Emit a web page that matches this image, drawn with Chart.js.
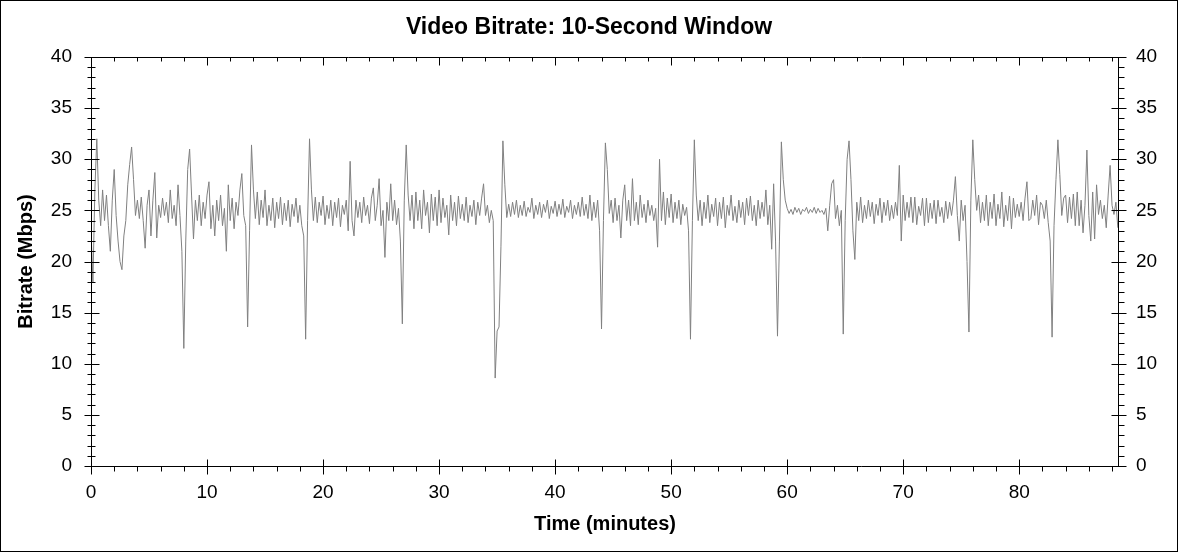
<!DOCTYPE html>
<html>
<head>
<meta charset="utf-8">
<title>Video Bitrate: 10-Second Window</title>
<script src="https://cdn.jsdelivr.net/npm/chart.js@4.4.1/dist/chart.umd.min.js"></script>
<style>
  html, body { margin: 0; padding: 0; background: #fff; }
  #grafico { display: block; }
</style>
</head>
<body>
<canvas id="grafico" width="1178" height="552"></canvas>
<script>
// bitrate samples (Mbps), one every 10 s
const sampleStepMin = 1 / 6;
const bitrateMbps = [
  23, 18, 27, 32, 26, 23.5,            27, 24, 26.5, 23.5, 21, 26,
  29, 24.5, 22, 20, 19.2, 22.5,        24, 27.5, 29.5, 31.2, 28, 24.5,
  26, 24.2, 26.3, 24, 21.3, 25.5,      27, 22.5, 26, 28.7, 22.3, 25.5,
  24.3, 26.2, 24.5, 25.8, 23.8, 27,    24.2, 25.5, 23.5, 27.5, 24.5, 21,
  11.5, 22, 29, 31, 26.5, 22.2,        26, 24, 26.5, 23.5, 25.8, 24.2,
  26.5, 27.8, 23.2, 25.5, 22.5, 26,    24, 26.5, 23.5, 25.2, 21, 27.5,
  24, 26.2, 23.2, 25.8, 24.5, 27,      28.6, 24.5, 23.5, 13.6, 23, 31.4,
  27, 24.2, 26.8, 23.6, 26, 24.3,      27, 23.5, 25.5, 24, 26.2, 23.3,
  25.8, 24.2, 26.3, 23.6, 25.7, 24,    26, 23.4, 25.6, 24.4, 26.2, 23.8,
  25.5, 23.5, 22.5, 12.4, 24, 32,      27, 24, 26.3, 23.8, 25.8, 24.5,
  26.4, 23.6, 25.5, 24.2, 26, 23.5,    25.8, 24.3, 26.2, 23.4, 25.5, 24.6,
  26, 23, 29.8, 24, 22.5, 26,          24.3, 25.8, 23.8, 26.3, 24.5, 25.5,
  23.7, 26.2, 27.2, 24, 25.5, 28.1,    23.5, 25, 20.4, 25.8, 24, 27.6,
  24, 26, 23.6, 25.2, 22, 13.9,        26, 31.4, 26.5, 24, 26.5, 23.2,
  26.8, 24, 26, 23.2, 27, 24.5,        25.8, 22.8, 26.6, 24, 26.3, 23.5,
  27, 23.8, 26.2, 24.3, 25.5, 22.6,    26.5, 24, 25.8, 23.5, 26.4, 24.2,
  25.6, 24, 26.3, 23.8, 25.5, 24.4,    26, 23.6, 25.8, 24.5, 26.2, 27.6,
  24.5, 25.5, 23.8, 25, 24, 8.6,       13.2, 13.6, 21.5, 31.8, 27.5, 24.3,
  25.6, 24.4, 25.8, 24.6, 26, 24.3,    25.5, 24.5, 25.9, 24.4, 25.3, 24.8,
  26.2, 24.2, 25.5, 24.6, 25.8, 24.3,  25.6, 24.8, 26, 24.2, 25.4, 24.7,
  25.9, 24.4, 25.6, 24.6, 26.1, 24.3,  25.4, 24.8, 26, 24.2, 25.5, 24.6,
  25.8, 24.4, 26.3, 24.5, 25.6, 24.2,  26.5, 24, 25.8, 24.3, 26, 23,
  13.4, 24, 31.6, 29, 24.7, 26,        23.8, 26.2, 24, 25.5, 22.3, 26,
  27.5, 24, 26, 23.5, 28.1, 24,        25.8, 23.6, 26.5, 24.3, 25.6, 23.8,
  26, 24.5, 25.5, 24, 25.2, 21.4,      30, 24, 26.8, 23.6, 26.2, 24.3,
  26.6, 23.8, 25.8, 24.2, 26, 23.6,    25.6, 24.5, 25.3, 23, 12.4, 24,
  31.9, 26.5, 24, 26, 23.5, 25.8,      24.2, 26.5, 23.8, 25.6, 24.4, 26.2,
  23.5, 25.8, 24.2, 26.3, 23.3, 25.5,  24.5, 26.5, 24, 25.4, 23.8, 26,
  24.3, 25.8, 23.6, 26.2, 24.5, 26.4,  24, 25.5, 23.5, 26, 24.2, 25.8,
  24.4, 27, 23.6, 25.5, 21.2, 27.6,    22, 12.7, 22, 31.7, 28, 26,
  25.2, 24.7, 25.1, 24.6, 25.3, 24.8,  25.2, 24.6, 25.1, 24.9, 25.3, 24.7,
  25.1, 24.8, 25.3, 24.7, 25.2, 24.8,  25, 24.6, 25.2, 23, 25.5, 27.6,
  28, 24.2, 25.5, 23.5, 25, 12.9,      24, 30, 31.8, 28, 23, 20.2,
  25.8, 24, 26.3, 23.8, 25.5, 24.2,    26, 24.4, 25.8, 23.7, 25.6, 24.5,
  26.2, 23.8, 25.8, 24.5, 26, 24,      25.5, 24.2, 25.8, 24.5, 29.4, 22,
  26.5, 24, 25.8, 24.3, 26.3, 23.8,    26.3, 23.6, 25.4, 24.5, 26.2, 23.5,
  26.2, 23.8, 25.7, 24.2, 26, 23.7,    26, 24.4, 25.3, 23.8, 25.9, 24.2,
  25.8, 24.5, 26, 28.3, 24.5, 22,      26, 24, 25.5, 20, 13.1, 26,
  31.9, 28, 25, 26.5, 23.8, 25.8,      24, 26.5, 23.5, 25.8, 24.2, 26.6,
  23.5, 25.6, 24.2, 26.8, 23.4, 25.5,  24, 26.4, 23.2, 26.2, 24.3, 25.6,
  24.4, 25.8, 24, 26.2, 27.8, 24,      24.2, 26, 24.5, 26.5, 23.6, 25.8,
  25.5, 24.2, 26, 23.8, 22, 12.6,      23.5, 28, 31.9, 28.5, 24.5, 26.2,
  26.5, 23.8, 26.3, 24.2, 26.6, 23.5,  26.8, 23.5, 26, 22.8, 25.5, 30.9,
  24.5, 22, 26.8, 22.2, 27.5, 24.6,    26, 24.2, 25.5, 23.3, 26.5, 29.4,
  25.5, 24.6, 25.8, 23.3
];

const chartTitle = "Video Bitrate: 10-Second Window";
const xTitle = "Time (minutes)";
const yTitle = "Bitrate (Mbps)";
const xMax = 88.6;
const yMax = 40;

const fuente = '"Liberation Sans", Arial, sans-serif';

const puntos = bitrateMbps.map((v, i) => ({ x: i * sampleStepMin, y: v }));

// frame, tick marks and title drawn on top of the scales
const marco = {
  id: 'marco',
  afterDraw(chart) {
    const ctx = chart.ctx;
    const a = chart.chartArea;
    const sx = chart.scales.x;
    const sy = chart.scales.y;
    const L = a.left + 0.5, R = a.right - 0.5, T = a.top + 0.5, B = a.bottom + 0.5;
    ctx.save();
    ctx.strokeStyle = '#000';
    ctx.lineWidth = 1;
    ctx.strokeRect(0.5, 0.5, chart.width - 1, chart.height - 1);
    ctx.beginPath();
    ctx.moveTo(L, T); ctx.lineTo(R, T); ctx.lineTo(R, B); ctx.lineTo(L, B); ctx.closePath();
    for (let v = 0; v <= yMax; v++) {
      const y = Math.round(sy.getPixelForValue(v)) + 0.5;
      if (v % 5 === 0) {
        ctx.moveTo(L - 7, y); ctx.lineTo(L + 8, y);
        ctx.moveTo(R - 7, y); ctx.lineTo(R + 8, y);
      } else {
        ctx.moveTo(L - 4, y); ctx.lineTo(L + 4, y);
        ctx.moveTo(R, y); ctx.lineTo(R + 6, y);
      }
    }
    for (let t = 0; t <= xMax; t += 2) {
      const x = Math.round(sx.getPixelForValue(t)) + 0.5;
      if (t % 10 === 0) {
        ctx.moveTo(x, B - 7); ctx.lineTo(x, B + 8);
        ctx.moveTo(x, T); ctx.lineTo(x, T + 8);
      } else {
        ctx.moveTo(x, B); ctx.lineTo(x, B + 5);
        ctx.moveTo(x, T); ctx.lineTo(x, T + 4);
      }
    }
    ctx.stroke();
    ctx.fillStyle = '#000';
    ctx.font = 'bold 23px ' + fuente;
    ctx.textAlign = 'center';
    ctx.textBaseline = 'middle';
    ctx.fillText(chartTitle, chart.width / 2, 28);
    ctx.restore();
  }
};

const tickFont = { family: fuente, size: 19 };
const titleFont = { family: fuente, size: 20, weight: 'bold' };

const config = {
  type: 'line',
  data: {
    datasets: [{
      data: puntos,
      borderColor: '#808080',
      borderWidth: 1,
      pointRadius: 0,
      tension: 0,
      fill: false
    }]
  },
  options: {
    responsive: false,
    animation: false,
    devicePixelRatio: 1,
    layout: { padding: { top: 57, left: 0, right: 0, bottom: 0 } },
    plugins: {
      legend: { display: false },
      tooltip: { enabled: false },
      title: { display: false }
    },
    scales: {
      x: {
        type: 'linear',
        position: 'bottom',
        min: 0,
        max: xMax,
        grid: { display: false, drawTicks: false },
        border: { display: false },
        ticks: {
          stepSize: 10,
          color: '#000',
          font: tickFont,
          padding: 15,
          maxRotation: 0,
          callback: (v) => (v % 10 === 0 ? v : '')
        },
        title: { display: true, text: xTitle, color: '#000', font: titleFont, padding: { top: 0, bottom: 16 } },
        afterFit: (s) => { s.height = 86; }
      },
      y: {
        position: 'left',
        min: 0,
        max: yMax,
        grid: { display: false, drawTicks: false },
        border: { display: false },
        ticks: { stepSize: 5, color: '#000', font: tickFont, padding: 19 },
        title: { display: true, text: yTitle, color: '#000', font: titleFont, padding: { top: 14, bottom: 0 } },
        afterFit: (s) => { s.width = 91; }
      },
      y2: {
        position: 'right',
        min: 0,
        max: yMax,
        grid: { display: false, drawTicks: false },
        border: { display: false },
        ticks: { stepSize: 5, color: '#000', font: tickFont, padding: 17 },
        afterFit: (s) => { s.width = 59; }
      }
    }
  },
  plugins: [marco]
};

new Chart(document.getElementById('grafico'), config);
</script>
</body>
</html>
